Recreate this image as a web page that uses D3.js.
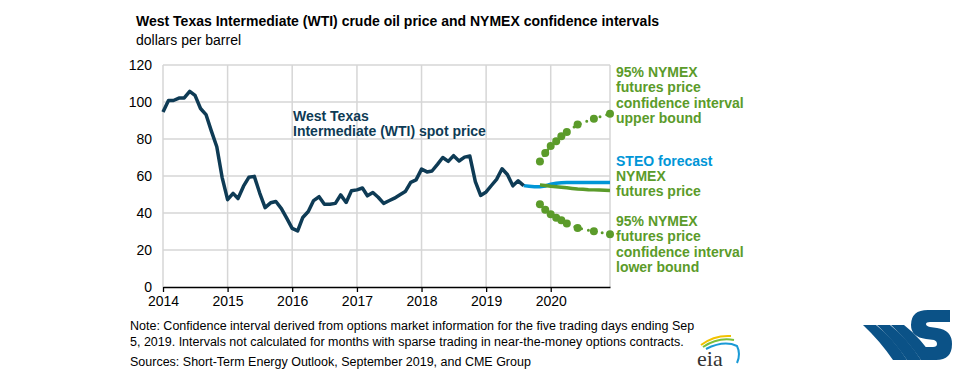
<!DOCTYPE html>
<html>
<head>
<meta charset="utf-8">
<script src="https://cdn.jsdelivr.net/npm/d3@7"></script>
<style>
  body { margin: 0; background: #fff; }
  svg { font-family: "Liberation Sans", Arial, sans-serif; }
</style>
</head>
<body>
<svg width="973" height="372"></svg>
<script>
// WTI monthly spot price, Jan 2014 - Aug 2019
const spotStart = [2014, 0];
const spotValues = [
  94.6, 100.8, 100.8, 102.1, 102.2, 105.8, 103.6, 96.5, 93.2, 84.4, 75.8, 59.3,
  47.2, 50.6, 47.8, 54.5, 59.3, 59.8, 50.9, 42.9, 45.5, 46.2, 42.4, 37.2,
  31.7, 30.3, 37.6, 40.8, 46.7, 48.8, 44.7, 44.7, 45.2, 49.8, 45.7, 52.0,
  52.5, 53.5, 49.3, 51.1, 48.5, 45.2, 46.6, 48.0, 49.8, 51.6, 56.6, 57.9,
  63.7, 62.2, 62.7, 66.3, 70.0, 67.9, 71.0, 68.1, 70.2, 70.8, 57.0, 49.5,
  51.4, 55.0, 58.2, 63.9, 60.8, 54.7, 57.4, 54.8
];
// STEO forecast, Aug 2019 - Dec 2020
const steoStart = [2019, 7];
const steoValues = [54.8, 54.5, 54.2, 54.2, 54.6, 55.6, 56.1, 56.4, 56.5, 56.5, 56.5, 56.5, 56.5, 56.5, 56.5, 56.5, 56.5];
// NYMEX futures, Nov 2019 - Dec 2020
const futStart = [2019, 10];
const futValues = [55.2, 54.9, 54.5, 54.2, 53.9, 53.6, 53.3, 53.0, 52.8, 52.6, 52.5, 52.4, 52.3, 52.2];
// 95% confidence bounds (months with enough trading only)
const ciMonths = ["2019-11", "2019-12", "2020-01", "2020-02", "2020-03", "2020-04", "2020-06", "2020-09", "2020-12"];
const ciUpper = [67.9, 72.4, 76.2, 78.8, 81.5, 83.8, 87.8, 91.0, 93.7];
const ciLower = [44.7, 41.8, 39.3, 37.5, 36.1, 34.3, 31.9, 30.1, 28.5];
const yTicks = [0, 20, 40, 60, 80, 100, 120];
const yearTicks = [2014, 2015, 2016, 2017, 2018, 2019, 2020];

const navy = "#0e3b55", blue = "#0096d7", green = "#5b9b2a", grid = "#d6d6d6";

const svg = d3.select("svg");
const plotLeft = 163, plotRight = 610, plotTop = 65, plotBottom = 287;

const monthSeries = (start, vals) =>
  vals.map((v, i) => ({ date: new Date(start[0], start[1] + i, 1), value: v }));
const spot = monthSeries(spotStart, spotValues);
const steo = monthSeries(steoStart, steoValues);
const fut = monthSeries(futStart, futValues);
const parseM = d3.timeParse("%Y-%m");
const upper = ciMonths.map((m, i) => ({ date: parseM(m), value: ciUpper[i] }));
const lower = ciMonths.map((m, i) => ({ date: parseM(m), value: ciLower[i] }));

const x = d3.scaleTime()
  .domain([new Date(2014, 0, 1), new Date(2020, 11, 1)])
  .range([plotLeft, plotRight]);
const y = d3.scaleLinear().domain([0, 120]).range([plotBottom, plotTop]);

// grid
svg.append("g")
  .selectAll("line")
  .data(yTicks.slice(1))
  .join("line")
  .attr("x1", plotLeft).attr("x2", plotRight)
  .attr("y1", d => y(d)).attr("y2", d => y(d))
  .attr("stroke", grid).attr("stroke-width", 1.5);

svg.append("g")
  .selectAll("line")
  .data(yearTicks.map(yr => new Date(yr, 0, 1)).concat([new Date(2020, 11, 1)]))
  .join("line")
  .attr("x1", d => x(d)).attr("x2", d => x(d))
  .attr("y1", plotTop).attr("y2", plotBottom)
  .attr("stroke", grid).attr("stroke-width", 1.5);

// axes
const yAxis = svg.append("g")
  .attr("transform", `translate(${plotLeft},0)`)
  .call(d3.axisLeft(y).tickValues(yTicks).tickSize(0).tickPadding(11));
yAxis.select(".domain").remove();
yAxis.selectAll("text").attr("font-size", 14).attr("fill", "#000")
  .attr("font-family", "Liberation Sans, Arial, sans-serif");

const xAxis = svg.append("g")
  .attr("transform", `translate(0,${plotBottom})`)
  .call(d3.axisBottom(x)
    .tickValues(yearTicks.map(yr => new Date(yr, 0, 1)))
    .tickFormat(d3.timeFormat("%Y"))
    .tickSizeInner(5).tickSizeOuter(0).tickPadding(4));
xAxis.select(".domain").attr("stroke", "#000").attr("stroke-width", 1.3);
xAxis.selectAll(".tick line").attr("stroke", "#000").attr("stroke-width", 1.3);
xAxis.selectAll("text").attr("font-size", 14).attr("fill", "#000")
  .attr("font-family", "Liberation Sans, Arial, sans-serif");

const line = d3.line().x(d => x(d.date)).y(d => y(d.value)).curve(d3.curveLinear);

svg.append("path").datum(steo)
  .attr("d", line).attr("fill", "none")
  .attr("stroke", blue).attr("stroke-width", 3.5);

svg.append("path").datum(fut)
  .attr("d", line).attr("fill", "none")
  .attr("stroke", green).attr("stroke-width", 3.5);

svg.append("path").datum(spot)
  .attr("d", line).attr("fill", "none")
  .attr("stroke", navy).attr("stroke-width", 3.5)
  .attr("stroke-linejoin", "round");

// confidence bounds: round markers joined by a dotted line
[upper, lower].forEach(series => {
  svg.append("path").datum(series)
    .attr("d", line).attr("fill", "none")
    .attr("stroke", green).attr("stroke-width", 3)
    .attr("stroke-linecap", "round")
    .attr("stroke-dasharray", "0,7");
  svg.append("g").selectAll("circle")
    .data(series)
    .join("circle")
    .attr("cx", d => x(d.date)).attr("cy", d => y(d.value))
    .attr("r", 4).attr("fill", green);
});

// annotations
const label = (xp, yp, lines, color, size = 14) => {
  const t = svg.append("text")
    .attr("x", xp).attr("y", yp)
    .attr("font-size", size).attr("font-weight", "bold").attr("fill", color);
  lines.forEach((s, i) => t.append("tspan").attr("x", xp).attr("dy", i ? 15.3 : 0).text(s));
};
label(293, 121, ["West Texas", "Intermediate (WTI) spot price"], navy);
label(616, 77, ["95% NYMEX", "futures price", "confidence interval", "upper bound"], green);
label(616, 166, ["STEO forecast"], blue);
label(616, 181, ["NYMEX", "futures price"], green);
label(616, 226, ["95% NYMEX", "futures price", "confidence interval", "lower bound"], green);

// titles
svg.append("text").attr("x", 136).attr("y", 26)
  .attr("font-size", 14).attr("font-weight", "bold")
  .text("West Texas Intermediate (WTI) crude oil price and NYMEX confidence intervals");
svg.append("text").attr("x", 136).attr("y", 45)
  .attr("font-size", 14)
  .text("dollars per barrel");

// notes
const notes = svg.append("g").attr("font-size", 12.5).attr("fill", "#000");
notes.append("text").attr("x", 130).attr("y", 330)
  .text("Note: Confidence interval derived from options market information for the five trading days ending Sep");
notes.append("text").attr("x", 130).attr("y", 346)
  .text("5, 2019. Intervals not calculated for months with sparse trading in near-the-money options contracts.");
notes.append("text").attr("x", 130).attr("y", 366)
  .text("Sources: Short-Term Energy Outlook, September 2019, and CME Group");

// eia logo
const eia = svg.append("g");
eia.append("path").attr("d", "M701,345 Q714,335 731,336").attr("fill", "none")
  .attr("stroke", "#f2c200").attr("stroke-width", 2);
eia.append("path").attr("d", "M703,347 Q718,337 734,340").attr("fill", "none")
  .attr("stroke", "#7cbf3a").attr("stroke-width", 2);
eia.append("path").attr("d", "M706,349 Q724,340 737,346 Q741,354 737,363").attr("fill", "none")
  .attr("stroke", "#1a9ad6").attr("stroke-width", 2);
eia.append("text").attr("x", 697).attr("y", 366)
  .attr("font-family", "Liberation Serif, Times New Roman, serif")
  .attr("font-size", 22).attr("fill", "#333").text("eia");

// S logo
const sLogo = svg.append("g").attr("fill", "#0b5287");
[0, 14, 28].forEach(dx => {
  sLogo.append("path")
    .attr("d", `M${863 + dx},325 L${876 + dx},325 Q${893 + dx},338 ${907 + dx},360 L${893 + dx},360 Q${880 + dx},341 ${863 + dx},325 Z`);
});
sLogo.append("path")
  .attr("d", "M950,310 L928,310 Q911,310 911,325 Q911,337 926,339 L934,340 Q937,341 937,344 Q937,347 933,347 L920,347 L929,360 L936,360 Q952,360 952,344 Q952,330 937,328 L930,327 Q926,326 926,324 Q926,322 930,322 L950,322 Z");
</script>
</body>
</html>
